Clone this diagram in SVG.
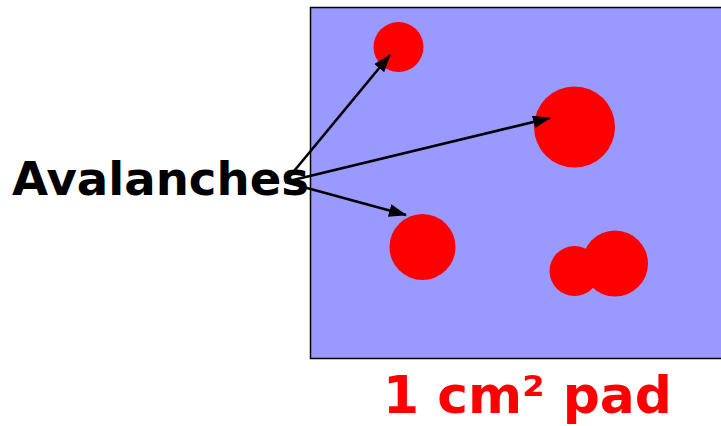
<svg xmlns="http://www.w3.org/2000/svg" width="721" height="426" viewBox="0 0 721 426">
<style>
.spot{fill:#ff0000}
.conn line{stroke:#000;stroke-width:2.6;marker-end:url(#ah)}
.lbl{font-family:"DejaVu Sans",Verdana,sans-serif;font-weight:bold}
</style>
<defs>
<marker id="ah" markerUnits="userSpaceOnUse" markerWidth="20" markerHeight="14" refX="17" refY="6.5" orient="auto">
<path d="M0,0 L18,6.5 L0,13 Z" fill="#000"/>
</marker>
</defs>
<g id="pad">
<rect x="310.5" y="7.5" width="412" height="351" fill="#9999ff" stroke="#000" stroke-width="1.5"/>
</g>
<g id="spots">
<circle class="spot" cx="398.5" cy="47" r="25"/>
<circle class="spot" cx="574.5" cy="127" r="40.5"/>
<circle class="spot" cx="422.5" cy="247" r="33"/>
<circle class="spot" cx="574.5" cy="271" r="25"/>
<circle class="spot" cx="615" cy="263.5" r="33"/>
</g>
<g id="label-avalanches">
<text class="lbl" x="12" y="195" font-size="47" fill="#000" textLength="297" lengthAdjust="spacingAndGlyphs">Avalanches</text>
</g>
<g id="label-pad">
<text class="lbl" x="383" y="413" font-size="51" fill="#ff0000" textLength="289" lengthAdjust="spacingAndGlyphs">1 cm² pad</text>
</g>
<g class="conn" id="connectors">
<line x1="285" y1="182" x2="390" y2="55"/>
<line x1="285" y1="182" x2="550" y2="118"/>
<line x1="285" y1="182" x2="406" y2="215"/>
</g>
</svg>
